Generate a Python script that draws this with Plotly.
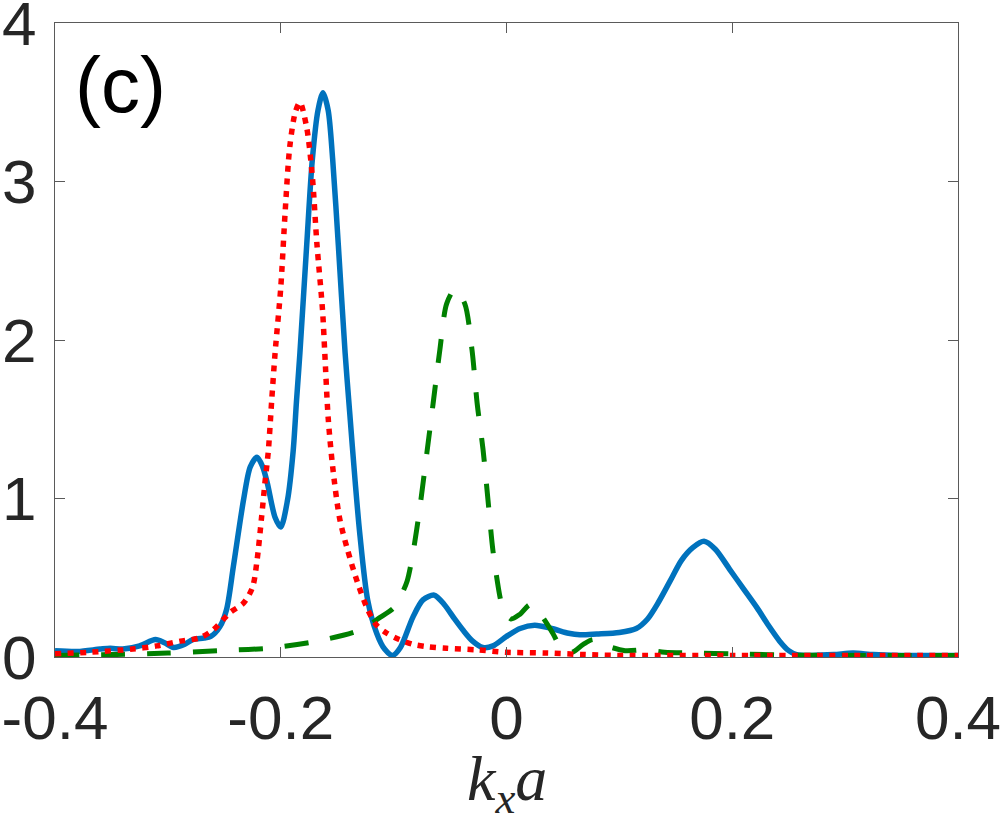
import plotly.graph_objects as go

# ---- data ----
blue_x = [-0.40, -0.38, -0.36, -0.351, -0.34, -0.325, -0.311, -0.303, -0.295, -0.285, -0.278, -0.268,
          -0.262, -0.254, -0.248, -0.242, -0.233, -0.227, -0.221, -0.216, -0.212, -0.205, -0.200, -0.194,
          -0.189, -0.186, -0.183, -0.177, -0.172, -0.167, -0.1626, -0.158, -0.154, -0.149, -0.143, -0.139,
          -0.134, -0.130, -0.123, -0.115, -0.108, -0.101, -0.094, -0.083, -0.074, -0.064, -0.055, -0.046,
          -0.0386, -0.030, -0.021, -0.012, 0.000, 0.012, 0.025, 0.040, 0.055, 0.065, 0.080, 0.100, 0.115,
          0.125, 0.135, 0.145, 0.155, 0.165, 0.175, 0.185, 0.198, 0.210, 0.222, 0.232, 0.242, 0.250,
          0.257, 0.270, 0.290, 0.307, 0.325, 0.350, 0.400]
blue_y = [0.04, 0.035, 0.05, 0.055, 0.05, 0.07, 0.11, 0.09, 0.06, 0.08, 0.11, 0.12,
          0.13, 0.19, 0.30, 0.57, 0.99, 1.20, 1.26, 1.20, 1.10, 0.88, 0.82, 0.99,
          1.30, 1.62, 1.92, 2.60, 3.14, 3.45, 3.56, 3.45, 3.14, 2.60, 1.92, 1.55,
          1.10, 0.78, 0.36, 0.15, 0.05, 0.01, 0.06, 0.25, 0.36, 0.39, 0.33, 0.24,
          0.17, 0.10, 0.06, 0.07, 0.13, 0.18, 0.20, 0.18, 0.15, 0.14, 0.145, 0.155, 0.18,
          0.24, 0.35, 0.48, 0.61, 0.69, 0.73, 0.68, 0.55, 0.43, 0.31, 0.20, 0.10, 0.04,
          0.015, 0.01, 0.015, 0.025, 0.015, 0.01, 0.01]

green_x = [-0.40, -0.35, -0.30, -0.256, -0.212, -0.168, -0.130, -0.112, -0.100, -0.094, -0.088, -0.083,
           -0.077, -0.0705, -0.065, -0.059, -0.053, -0.0456, -0.037, -0.0306, -0.026, -0.0208, -0.0164,
           -0.012, -0.0058, -0.003, 0.004, 0.012, 0.021, 0.030, 0.041, 0.049, 0.058, 0.068, 0.077, 0.089,
           0.105, 0.123, 0.140, 0.165, 0.200, 0.250, 0.400]
green_y = [0.01, 0.015, 0.025, 0.04, 0.055, 0.10, 0.17, 0.25, 0.31, 0.38, 0.48, 0.65,
           0.93, 1.29, 1.60, 1.94, 2.23, 2.32, 2.23, 1.94, 1.60, 1.31, 0.99,
           0.67, 0.38, 0.30, 0.24, 0.27, 0.33, 0.27, 0.15, 0.05, 0.03, 0.08, 0.11, 0.07,
           0.04, 0.045, 0.03, 0.025, 0.02, 0.012, 0.01]

red_x = [-0.40, -0.37, -0.331, -0.31, -0.289, -0.272, -0.260, -0.245, -0.233, -0.225, -0.221, -0.217,
         -0.214, -0.211, -0.208, -0.205, -0.200, -0.196, -0.192, -0.187, -0.183, -0.177, -0.172, -0.168,
         -0.163, -0.161, -0.158, -0.154, -0.148, -0.141, -0.132, -0.123, -0.115, -0.106, -0.095, -0.083,
         -0.070, -0.053, -0.026, 0.000, 0.036, 0.070, 0.100, 0.200, 0.400]
red_y = [0.02, 0.03, 0.05, 0.07, 0.10, 0.12, 0.17, 0.28, 0.34, 0.44, 0.61, 0.88,
         1.10, 1.30, 1.62, 1.92, 2.33, 2.82, 3.22, 3.44, 3.50, 3.34, 3.03, 2.61,
         2.19, 1.92, 1.51, 1.20, 0.88, 0.68, 0.47, 0.30, 0.20, 0.15, 0.11, 0.08,
         0.065, 0.055, 0.045, 0.03, 0.025, 0.015, 0.01, 0.01, 0.01]

x_ticks = [-0.4, -0.2, 0, 0.2, 0.4]
x_tick_text = ["-0.4", "-0.2", "0", "0.2", "0.4"]
y_ticks = [0, 1, 2, 3, 4]
y_tick_text = ["0", "1", "2", "3", "4"]

fig = go.Figure()
fig.add_trace(go.Scatter(x=blue_x, y=blue_y, mode="lines",
                         line=dict(color="#0072BD", width=5.5, shape="spline", smoothing=0.8)))
fig.add_trace(go.Scatter(x=green_x, y=green_y, mode="lines",
                         line=dict(color="#008000", width=5, dash="24px,22px", shape="spline", smoothing=0.8)))
fig.add_trace(go.Scatter(x=red_x, y=red_y, mode="lines",
                         line=dict(color="#FF0000", width=5.5, dash="6px,6.5px", shape="spline", smoothing=0.8)))

axis_common = dict(showgrid=False, zeroline=False, showline=True, linecolor="#5a5a5a", linewidth=1.3,
                   mirror="ticks", ticks="inside", ticklen=10, tickcolor="#5a5a5a", tickwidth=1.3,
                   automargin=False, ticklabeloverflow="allow",
                   tickfont=dict(family="Liberation Sans, Arial, sans-serif", size=62, color="#262626"))

fig.update_layout(
    width=1000, height=819,
    margin=dict(l=55, r=42, t=23, b=162),
    paper_bgcolor="white", plot_bgcolor="white",
    showlegend=False,
    xaxis=dict(range=[-0.4, 0.4], tickvals=x_ticks, ticktext=x_tick_text, ticklabelstandoff=6, **axis_common),
    yaxis=dict(range=[0, 4], tickvals=y_ticks, ticktext=y_tick_text, ticklabelstandoff=5, **axis_common),
    annotations=[
        dict(x=0.072, y=0.902, xref="paper", yref="paper", text="(c)", showarrow=False,
             xanchor="center", yanchor="middle",
             font=dict(family="Liberation Sans, Arial, sans-serif", size=78, color="black")),
        dict(x=0.5, y=-0.198, xref="paper", yref="paper",
             text="<i>k</i><sub><i>x</i></sub><i>a</i>", showarrow=False,
             xanchor="center", yanchor="middle",
             font=dict(family="Liberation Serif, DejaVu Serif, serif", size=64, color="#262626")),
    ],
)

fig.write_html("out.html")
